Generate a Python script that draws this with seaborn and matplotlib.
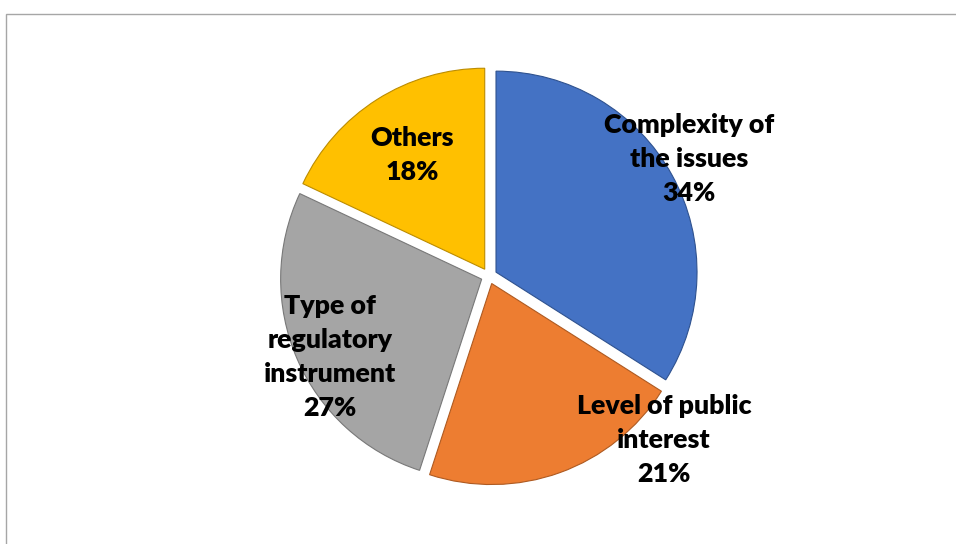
import matplotlib
matplotlib.use("Agg")
import matplotlib.pyplot as plt
from matplotlib.patches import Rectangle
import seaborn as sns

# Factors and their shares (%)
categories = ["Complexity of\nthe issues", "Level of public\ninterest", "Type of\nregulatory\ninstrument", "Others"]
shares = [34, 21, 27, 18]

face_colors = ["#4472C4", "#ED7D31", "#A5A5A5", "#FFC000"]
edge_colors = ["#2F528F", "#AE5A21", "#787878", "#BC8C00"]

# Label anchor points (pixels, origin bottom-left)
label_xy = [(689, 385), (664, 104), (330, 187), (412, 389)]

sns.set_theme(style="white")
plt.rcParams["font.family"] = ["Lato", "DejaVu Sans"]

W, H = 956, 544
fig = plt.figure(figsize=(W / 100, H / 100), dpi=100)
ax = fig.add_axes([0, 0, 1, 1])
ax.set_xlim(0, W)
ax.set_ylim(0, H)
ax.set_aspect("equal")
ax.axis("off")

# Outer frame
fig.patches.append(Rectangle((5.5 / W, -0.1), 1.2, (H - 13.5) / H + 0.1,
                             transform=fig.transFigure, fill=False,
                             edgecolor="#A6A6A6", linewidth=1.0))

wedges, _ = ax.pie(shares, colors=face_colors, startangle=90, counterclock=False,
                   center=(489, 268), radius=201, explode=[8] * len(shares),
                   wedgeprops=dict(linewidth=0.8), frame=False)
for w, ec in zip(wedges, edge_colors):
    w.set_edgecolor(ec)

ax.set_xlim(0, W)
ax.set_ylim(0, H)

for cat, val, (x, y) in zip(categories, shares, label_xy):
    ax.text(x, y, f"{cat}\n{val}%", ha="center", va="center", fontsize=19.3,
            fontweight="heavy", color="black", linespacing=1.5)

fig.savefig("out.png", dpi=100, facecolor="white")
